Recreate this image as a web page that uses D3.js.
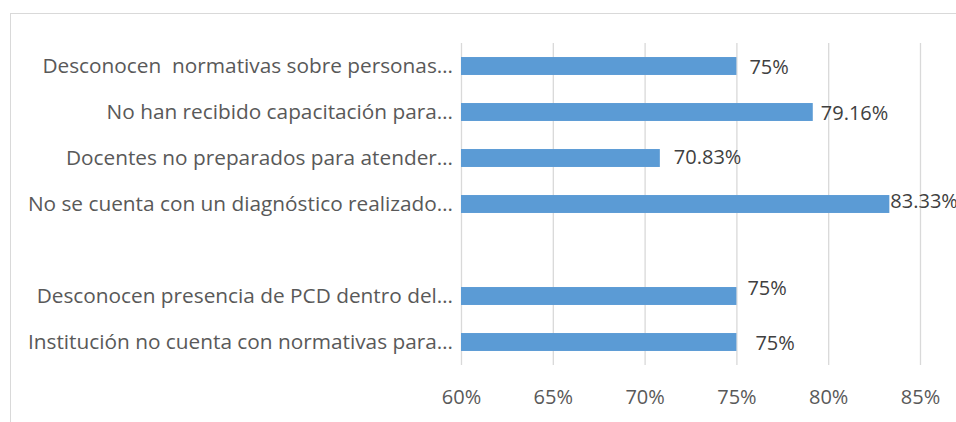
<!DOCTYPE html>
<html>
<head>
<meta charset="utf-8">
<script src="https://cdn.jsdelivr.net/npm/d3@7"></script>
<style>
  body { margin: 0; background: #fff; }
  svg { display: block; font-family: "Open Sans", "Noto Sans", sans-serif; }
</style>
</head>
<body>
<div id="chart"></div>
<script>
// Data (top to bottom, one blank slot)
const categories = [
  "Desconocen  normativas sobre personas…",
  "No han recibido capacitación para…",
  "Docentes no preparados para atender…",
  "No se cuenta con un diagnóstico realizado…",
  "",
  "Desconocen presencia de PCD dentro del…",
  "Institución no cuenta con normativas para…"
];
const values = [0.75, 0.7916, 0.7083, 0.8333, null, 0.75, 0.75];
const tickValues = [0.60, 0.65, 0.70, 0.75, 0.80, 0.85];

// Hand-placed data label nudges (as in the source chart), px
const labelShift = [[13, 0.5], [8, 1], [14, -1], [1, -3], [0, 0], [11, -8.5], [19, 1]];

// Define margin, width, and height
const W = 956, H = 422;
const margin = { top: 43, left: 461 };
const width = 459;
const height = 322;

const svg = d3.select("#chart")
  .append("svg")
  .attr("width", W)
  .attr("height", H);

// chart border (cut by the picture edge on right/bottom)
svg.append("rect")
  .attr("x", 10.5)
  .attr("y", 13.5)
  .attr("width", 960)
  .attr("height", 420)
  .attr("fill", "none")
  .attr("stroke", "#d9d9d9")
  .attr("stroke-width", 1);

const g = svg.append("g")
  .attr("transform", "translate(" + margin.left + "," + margin.top + ")");

// scales
const x = d3.scaleLinear()
  .domain([0.6, 0.85])
  .range([0, width]);
const y = d3.scaleBand()
  .domain(categories)
  .range([0, height])
  .paddingInner(0.61)
  .paddingOuter(0.305);

// gridlines
g.append("g")
  .attr("class", "grid")
  .call(d3.axisBottom(x).tickValues(tickValues).tickSize(height).tickFormat(""))
  .call(function (s) {
    s.select(".domain").remove();
    s.selectAll("line").attr("stroke", "#d9d9d9").attr("stroke-width", 1.3);
  });

// x-axis labels
g.append("g")
  .attr("class", "x axis")
  .attr("transform", "translate(0," + height + ")")
  .call(d3.axisBottom(x).tickValues(tickValues).tickSize(0).tickFormat(d3.format(".0%")))
  .call(function (s) {
    s.select(".domain").remove();
    s.selectAll("text")
      .attr("y", 39)
      .attr("dy", 0)
      .attr("fill", "#595959")
      .style("font-size", "20px")
      .style("font-family", "\"Open Sans\", \"Noto Sans\", sans-serif");
  });

// category labels
g.selectAll(".cat")
  .data(categories)
  .enter().append("text")
  .attr("class", "cat")
  .attr("x", -8)
  .attr("y", function (d) { return y(d) + y.bandwidth() / 2; })
  .attr("dy", "0.357em")
  .attr("text-anchor", "end")
  .style("white-space", "pre")
  .attr("fill", "#595959")
  .style("font-size", "20.8px")
  .text(function (d) { return d; });

const rows = categories.map(function (c, i) { return { c: c, v: values[i], i: i }; })
  .filter(function (d) { return d.v != null; });

// bars
g.selectAll(".bar")
  .data(rows)
  .enter().append("rect")
  .attr("class", "bar")
  .attr("x", x(0.6))
  .attr("y", function (d) { return y(d.c); })
  .attr("width", function (d) { return x(d.v) - x(0.6); })
  .attr("height", y.bandwidth())
  .attr("fill", "#5b9bd5");

// data labels
g.selectAll(".val")
  .data(rows)
  .enter().append("text")
  .attr("class", "val")
  .attr("x", function (d) { return x(d.v) + labelShift[d.i][0]; })
  .attr("y", function (d) { return y(d.c) + y.bandwidth() / 2 + labelShift[d.i][1]; })
  .attr("dy", "0.357em")
  .attr("fill", "#404040")
  .style("font-size", "20px")
  .text(function (d) { return (+(d.v * 100).toFixed(2)) + "%"; });
</script>
</body>
</html>
